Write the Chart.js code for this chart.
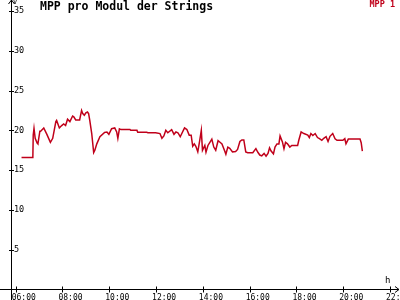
<!DOCTYPE html>
<html>
<head>
<meta charset="utf-8">
<script src="https://cdn.jsdelivr.net/npm/chart.js@4/dist/chart.umd.min.js"></script>
<style>
  html, body { margin: 0; padding: 0; background: #fff; }
  #wrap { width: 400px; height: 300px; }
</style>
</head>
<body>
<div id="wrap"><canvas id="grafico" width="400" height="300"></canvas></div>
<script>
// MPP pro Modul der Strings - Tagesverlauf

const titel = "MPP pro Modul der Strings";
const serieName = "MPP 1";
const einheitY = "V";
const einheitX = "h";

// Uhrzeiten der Messpunkte
const zeiten = [
  "06:15", "06:44", "06:45", "06:47", "06:50", "06:55", "06:57", "07:02", "07:04", "07:12",
  "07:20", "07:29", "07:35", "07:43", "07:45", "07:52", "07:58", "08:03", "08:08", "08:13",
  "08:19", "08:26", "08:29", "08:34", "08:44", "08:49", "08:52", "08:56", "09:00", "09:04",
  "09:07", "09:10", "09:15", "09:20", "09:23", "09:28", "09:36", "09:48", "09:54", "09:59",
  "10:06", "10:14", "10:19", "10:22", "10:26", "10:30", "10:53", "10:55", "11:11", "11:13",
  "11:36", "11:39", "11:59", "12:10", "12:15", "12:20", "12:25", "12:30", "12:40", "12:46",
  "12:51", "12:56", "13:02", "13:13", "13:19", "13:25", "13:30", "13:34", "13:38", "13:42",
  "13:47", "13:52", "13:56", "13:59", "14:05", "14:08", "14:13", "14:18", "14:23", "14:28",
  "14:33", "14:39", "14:44", "14:49", "14:56", "14:59", "15:04", "15:09", "15:16", "15:24",
  "15:29", "15:35", "15:40", "15:45", "15:50", "15:55", "16:08", "16:16", "16:21", "16:26",
  "16:31", "16:37", "16:42", "16:47", "16:51", "16:55", "17:01", "17:05", "17:10", "17:15",
  "17:18", "17:24", "17:28", "17:32", "17:37", "17:43", "17:48", "18:03", "18:06", "18:12",
  "18:19", "18:29", "18:33", "18:37", "18:42", "18:48", "18:54", "18:59", "19:05", "19:10",
  "19:16", "19:21", "19:26", "19:33", "19:39", "19:44", "19:59", "20:04", "20:07", "20:13",
  "20:43", "20:46", "20:49"
];

// Spannung MPP 1 in V
const mpp1 = [
  16.6, 16.6, 19.4, 20.25, 19.0, 18.4, 18.3, 19.9, 19.9, 20.3,
  19.5, 18.5, 19.0, 21.1, 21.25, 20.3, 20.6, 20.8, 20.6, 21.4,
  21.1, 21.8, 21.7, 21.3, 21.3, 22.5, 22.1, 21.9, 22.2, 22.3,
  22.1, 21.25, 19.6, 17.2, 17.5, 18.3, 19.2, 19.75, 19.8, 19.5,
  20.2, 20.3, 19.8, 19.0, 20.2, 20.1, 20.1, 20.0, 20.0, 19.75,
  19.75, 19.7, 19.7, 19.6, 19.0, 19.3, 20.0, 19.7, 20.1, 19.5,
  19.8, 19.7, 19.2, 20.3, 20.1, 19.4, 19.4, 18.0, 18.3, 18.0,
  17.3, 18.75, 20.0, 17.5, 18.1, 17.25, 18.1, 18.5, 18.9, 17.9,
  17.5, 18.7, 18.5, 18.3, 17.4, 17.0, 17.9, 17.75, 17.3, 17.35,
  17.6, 18.6, 18.8, 18.8, 17.3, 17.2, 17.2, 17.7, 17.25, 16.9,
  16.8, 17.1, 16.75, 17.1, 17.8, 17.4, 17.05, 17.9, 18.3, 18.3,
  19.3, 18.55, 17.7, 18.5, 18.3, 17.9, 18.1, 18.1, 18.75, 19.8,
  19.6, 19.4, 19.1, 19.6, 19.35, 19.6, 19.1, 18.95, 18.75, 19.0,
  19.2, 18.6, 19.25, 19.6, 18.95, 18.75, 18.75, 18.95, 18.3, 18.9,
  18.9, 18.45, 17.4
];

// Achsenbeschriftung
const xTicks = [6, 8, 10, 12, 14, 16, 18, 20, 22];
const yTicks = [5, 10, 15, 20, 25, 30, 35];

const rot = "#c0001a";
const fontMono = "'DejaVu Sans Mono', monospace";

const inStunden = (s) => Number(s.slice(0, 2)) + Number(s.slice(3)) / 60;
const punkte = zeiten.map((z, i) => ({ x: inStunden(z), y: mpp1[i] }));

// Achsen, Pfeile, Titel und Legende zeichnen
const achsenPlugin = {
  id: "achsen",
  afterDraw(chart) {
    const ctx = chart.ctx;
    const xs = chart.scales.x;
    const ys = chart.scales.y;
    const x0 = chart.chartArea.left;
    const y0 = chart.chartArea.bottom;
    ctx.save();
    ctx.strokeStyle = "#000";
    ctx.lineWidth = 1;
    ctx.beginPath();
    // y-Achse
    ctx.moveTo(x0 + 0.5, 0);
    ctx.lineTo(x0 + 0.5, 300);
    // x-Achse
    ctx.moveTo(0, y0);
    ctx.lineTo(399, y0);
    // Pfeile
    ctx.moveTo(x0 + 0.5 - 3, 4);
    ctx.lineTo(x0 + 0.5, 0);
    ctx.lineTo(x0 + 0.5 + 3, 4);
    ctx.moveTo(395, y0 - 3);
    ctx.lineTo(399, y0);
    ctx.lineTo(395, y0 + 3);
    // Striche
    yTicks.forEach((v) => {
      const p = Math.round(ys.getPixelForValue(v)) + 0.5;
      ctx.moveTo(x0 - 2, p);
      ctx.lineTo(x0 + 3, p);
    });
    xTicks.forEach((v) => {
      const p = Math.round(xs.getPixelForValue(v)) + 0.5;
      ctx.moveTo(p, y0 - 3);
      ctx.lineTo(p, y0 + 3);
    });
    ctx.stroke();

    ctx.fillStyle = "#000";
    ctx.textBaseline = "middle";
    ctx.textAlign = "left";
    ctx.font = "bold 11.5px " + fontMono;
    ctx.fillText(titel, 40, 7);
    ctx.font = "7px " + fontMono;
    ctx.fillText(einheitY, 13, 2);
    ctx.font = "9px " + fontMono;
    ctx.fillText(einheitX, 385, 281);
    ctx.fillStyle = rot;
    ctx.textAlign = "right";
    ctx.font = "bold 8.5px " + fontMono;
    ctx.fillText(serieName, 395, 5);
    ctx.restore();
  },
};

const festeGroesse = (scale) => {
  if (scale.isHorizontal()) scale.height = 10.5;
  else scale.width = 0;
  scale.paddingLeft = 0;
  scale.paddingRight = 0;
  scale.paddingTop = 0;
  scale.paddingBottom = 0;
};

new Chart(document.getElementById("grafico"), {
  type: "line",
  data: {
    datasets: [
      {
        label: serieName,
        data: punkte,
        borderColor: rot,
        borderWidth: 1.5,
        pointRadius: 0,
        tension: 0,
        fill: false,
      },
    ],
  },
  options: {
    responsive: false,
    animation: false,
    layout: { padding: { left: 11, right: 2, top: 11, bottom: 0 } },
    plugins: { legend: { display: false }, title: { display: false }, tooltip: { enabled: false } },
    scales: {
      x: {
        type: "linear",
        min: 5.8,
        max: 22.34,
        grid: { display: false, drawTicks: false },
        border: { display: false },
        afterBuildTicks: (s) => { s.ticks = xTicks.map((v) => ({ value: v })); },
        afterFit: festeGroesse,
        ticks: {
          align: "start",
          padding: 3.5,
          labelOffset: -4,
          maxRotation: 0,
          autoSkip: false,
          color: "#000",
          font: { family: fontMono, size: 8 },
          callback: (v) => String(v).padStart(2, "0") + ":00",
        },
      },
      y: {
        min: 0,
        max: 35,
        grid: { display: false, drawTicks: false },
        border: { display: false },
        afterBuildTicks: (s) => { s.ticks = yTicks.map((v) => ({ value: v })); },
        afterFit: festeGroesse,
        ticks: {
          mirror: true,
          padding: 3,
          color: "#000",
          font: { family: fontMono, size: 8.5 },
        },
      },
    },
  },
  plugins: [achsenPlugin],
});
</script>
</body>
</html>
